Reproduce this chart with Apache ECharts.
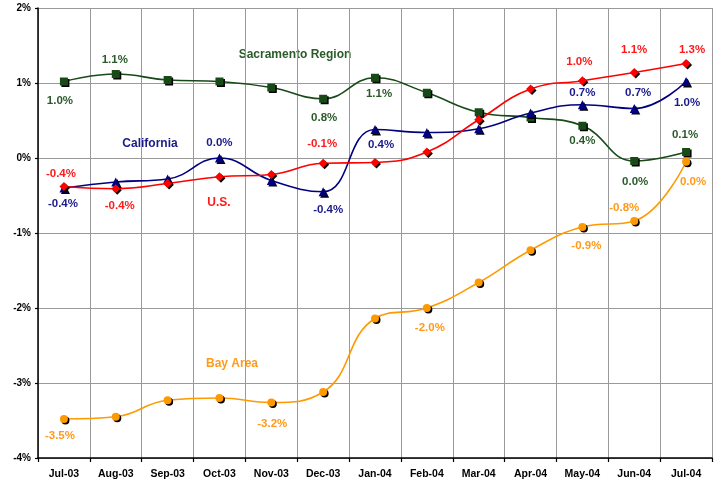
<!DOCTYPE html>
<html>
<head>
<meta charset="utf-8">
<script src="https://cdn.jsdelivr.net/npm/echarts@6/dist/echarts.min.js"></script>
<style>
html,body{margin:0;padding:0;background:#fff;}
#chart{width:717px;height:482px;}
</style>
</head>
<body>
<div id="chart"></div>
<script>
// ---- data ----
var months = ['Jul-03','Aug-03','Sep-03','Oct-03','Nov-03','Dec-03','Jan-04','Feb-04','Mar-04','Apr-04','May-04','Jun-04','Jul-04'];
var yTicks = [-4, -3, -2, -1, 0, 1, 2];

var sacramento = [1.02, 1.12, 1.04, 1.02, 0.94, 0.79, 1.07, 0.87, 0.61, 0.54, 0.43, -0.04, 0.08];
var california = [-0.40, -0.32, -0.28, 0.00, -0.30, -0.45, 0.38, 0.34, 0.39, 0.60, 0.71, 0.66, 1.02];
var us         = [-0.38, -0.41, -0.34, -0.25, -0.22, -0.07, -0.06, 0.08, 0.51, 0.92, 1.03, 1.14, 1.26];
var bayArea    = [-3.48, -3.45, -3.23, -3.20, -3.26, -3.12, -2.14, -2.00, -1.66, -1.23, -0.92, -0.84, -0.05];

var sacLabels = ['1.0%','1.1%',null,null,null,'0.8%','1.1%',null,null,null,'0.4%','0.0%','0.1%'];
var calLabels = ['-0.4%',null,null,'0.0%',null,'-0.4%','0.4%',null,null,null,'0.7%','0.7%','1.0%'];
var usLabels  = ['-0.4%','-0.4%',null,null,null,'-0.1%',null,null,null,null,'1.0%','1.1%','1.3%'];
var bayLabels = ['-3.5%',null,null,null,'-3.2%',null,null,'-2.0%',null,null,'-0.9%','-0.8%','0.0%'];

var seriesNames = ['Sacramento Region','California','U.S.','Bay Area'];

// ---- label placement (style) ----
var sacOff = [[-4,19],[-1,-14],null,null,null,[1,19],[4,16],null,null,null,[0,15],[1,21],[-1,-17]];
var calOff = [[-1,16],null,null,[0,-15],null,[5,18],[6,15],null,null,null,[0,-12],[4,-16],[1,21]];
var usOff  = [[-3,-13],[4,17],null,null,null,[-1,-19],null,null,null,null,[-3,-19],[0,-23],[6,-14]];
var bayOff = [[-4,17],null,null,null,[1,21],null,null,[3,20],null,null,[4,19],[-10,-13],[7,20]];

var FONT = '"Liberation Sans", Arial, sans-serif';

function buildData(values, labels, offs, color) {
  return values.map(function (v, i) {
    var item = { value: v };
    if (labels[i]) {
      item.label = {
        show: true,
        position: 'inside',
        offset: offs[i],
        formatter: labels[i],
        color: color,
        fontFamily: FONT,
        fontWeight: 'bold',
        fontSize: 11.5
      };
    } else {
      item.label = { show: false };
    }
    return item;
  });
}

function makeSeries(name, values, labels, offs, lineColor, textColor, symbol, size) {
  return {
    name: name,
    type: 'line',
    data: buildData(values, labels, offs, textColor),
    smooth: 0.45,
    symbol: symbol,
    symbolSize: size,
    lineStyle: { color: lineColor, width: 1.6 },
    itemStyle: {
      color: lineColor,
      shadowColor: '#000',
      shadowOffsetX: 1.5,
      shadowOffsetY: 1.5,
      shadowBlur: 0
    },
    emphasis: { disabled: true },
    z: 3
  };
}

var chart = echarts.init(document.getElementById('chart'), null, { renderer: 'canvas' });

var nameLabelStyle = { fontFamily: FONT, fontWeight: 'bold', fontSize: 12 };

var option = {
  animation: false,
  backgroundColor: '#fff',
  grid: { left: 38, right: 5, top: 8, bottom: 24, show: false },
  xAxis: {
    type: 'category',
    data: months,
    boundaryGap: true,
    axisLine: { show: true, onZero: false, lineStyle: { color: '#000', width: 1.5 } },
    axisTick: { show: true, length: 4, lineStyle: { color: '#000', width: 1.2 } },
    axisLabel: { color: '#000', fontFamily: FONT, fontWeight: 'bold', fontSize: 10.5, margin: 11 },
    splitLine: { show: true, lineStyle: { color: '#9a9a9a', width: 1 } }
  },
  yAxis: {
    type: 'value',
    min: yTicks[0],
    max: yTicks[yTicks.length - 1],
    interval: 1,
    axisLine: { show: true, lineStyle: { color: '#000', width: 1.5 } },
    axisTick: { show: true, length: 3, lineStyle: { color: '#000', width: 1.2 } },
    axisLabel: {
      color: '#000', fontFamily: FONT, fontWeight: 'bold', fontSize: 10, margin: 7,
      formatter: function (v) { return v + '%'; }
    },
    splitLine: { show: true, lineStyle: { color: '#9a9a9a', width: 1 } }
  },
  series: [
    makeSeries(seriesNames[0], sacramento, sacLabels, sacOff, '#184a18', '#2a5a2a', 'rect', 8),
    makeSeries(seriesNames[1], california, calLabels, calOff, '#000080', '#1a1a8a', 'triangle', 9),
    makeSeries(seriesNames[2], us, usLabels, usOff, '#ff0000', '#ff1a1a', 'diamond', 9),
    makeSeries(seriesNames[3], bayArea, bayLabels, bayOff, '#ff9900', '#ff9a1a', 'circle', 8)
  ],
  graphic: [
    { type: 'text', x: 295, y: 55, style: Object.assign({ text: seriesNames[0], fill: '#2a5a2a', align: 'center', verticalAlign: 'middle' }, nameLabelStyle) },
    { type: 'text', x: 150, y: 144, style: Object.assign({ text: seriesNames[1], fill: '#1a1a8a', align: 'center', verticalAlign: 'middle' }, nameLabelStyle) },
    { type: 'text', x: 219, y: 203, style: Object.assign({ text: seriesNames[2], fill: '#ff1a1a', align: 'center', verticalAlign: 'middle' }, nameLabelStyle) },
    { type: 'text', x: 232, y: 364, style: Object.assign({ text: seriesNames[3], fill: '#ff9a1a', align: 'center', verticalAlign: 'middle' }, nameLabelStyle) }
  ]
};

chart.setOption(option);
</script>
</body>
</html>
